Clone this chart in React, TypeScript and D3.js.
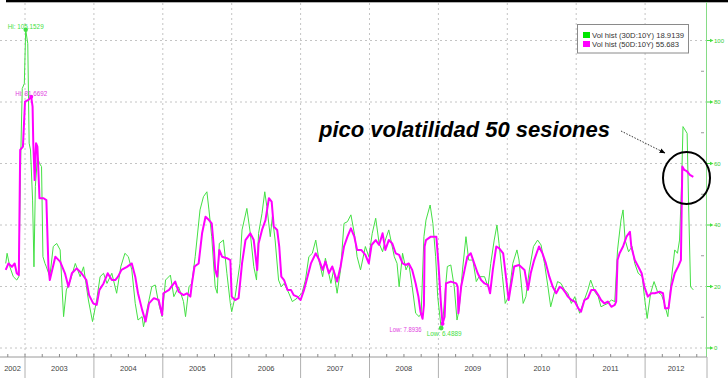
import React from "react";
import * as d3 from "d3";

// Decimal-year time stamps and volatility values
const vol30: [number, number][] = [
  [2002.72, 27.5], [2002.74, 30.8], [2002.78, 26.4], [2002.83, 23.2], [2002.88, 22.1], [2002.91, 23.2],
  [2002.94, 64.4], [2002.96, 84.4], [2002.99, 86], [2003.01, 103.5], [2003.04, 99], [2003.06, 66.6],
  [2003.08, 64.4], [2003.11, 48.1], [2003.13, 26.4], [2003.15, 52.5], [2003.18, 62.2], [2003.21, 60],
  [2003.24, 59], [2003.26, 29.7], [2003.29, 27.5], [2003.31, 26.4], [2003.36, 23.2], [2003.41, 33],
  [2003.46, 34], [2003.51, 31.9], [2003.56, 10.2], [2003.6, 18.9], [2003.66, 22.1], [2003.73, 27.5],
  [2003.8, 23.2], [2003.85, 26.4], [2003.92, 15.6], [2003.98, 8.6], [2004.04, 15.6], [2004.09, 23.2],
  [2004.14, 24.3], [2004.19, 21], [2004.26, 24.3], [2004.33, 17.8], [2004.39, 26.4], [2004.45, 30.8],
  [2004.5, 29.7], [2004.55, 25.4], [2004.6, 14.5], [2004.64, 9.1], [2004.7, 10.2], [2004.72, 6.9],
  [2004.8, 15.6], [2004.84, 19.9], [2004.89, 20.5], [2004.94, 14.5], [2004.99, 10.2], [2005.04, 22.1],
  [2005.11, 23.7], [2005.16, 16.7], [2005.23, 19.9], [2005.3, 15.1], [2005.33, 10.2], [2005.38, 19.9],
  [2005.42, 21], [2005.47, 29.7], [2005.54, 44.9], [2005.59, 49.2], [2005.64, 50.8], [2005.67, 44.9],
  [2005.71, 36.2], [2005.76, 19.9], [2005.79, 17.8], [2005.82, 34], [2005.88, 35.1], [2005.93, 24.3],
  [2005.98, 14.5], [2006.0, 11.8], [2006.05, 16.7], [2006.12, 27.5], [2006.15, 38.4], [2006.22, 45.4],
  [2006.27, 37.3], [2006.32, 26.5], [2006.36, 22.1], [2006.39, 37.3], [2006.44, 43.8], [2006.48, 50.8],
  [2006.51, 46], [2006.56, 36.2], [2006.59, 42.7], [2006.63, 35.1], [2006.68, 22.1], [2006.72, 19.9],
  [2006.76, 21], [2006.83, 17.8], [2006.88, 15.1], [2006.95, 16.2], [2007.02, 17.8], [2007.07, 22.1],
  [2007.12, 29.7], [2007.17, 30.8], [2007.22, 35.1], [2007.27, 28.1], [2007.32, 23.2], [2007.36, 29.2],
  [2007.44, 21], [2007.48, 25.4], [2007.53, 17.8], [2007.58, 25.4], [2007.63, 40.5], [2007.68, 41.1],
  [2007.73, 43.3], [2007.78, 37.3], [2007.82, 29.7], [2007.87, 25.4], [2007.94, 33], [2007.99, 29.7],
  [2008.04, 37.3], [2008.09, 42.2], [2008.14, 34], [2008.19, 31.3], [2008.23, 35.1], [2008.28, 38.4],
  [2008.36, 29.7], [2008.4, 27.5], [2008.43, 19.9], [2008.48, 30.8], [2008.53, 25.4], [2008.57, 27.5],
  [2008.62, 19.9], [2008.67, 11.3], [2008.72, 10.2], [2008.75, 11.3], [2008.79, 36.2], [2008.82, 41.6],
  [2008.88, 46.5], [2008.92, 40.5], [2008.96, 29.7], [2008.99, 16.7], [2009.04, 6.49], [2009.06, 7.5],
  [2009.1, 18.9], [2009.13, 26.5], [2009.18, 27], [2009.23, 19.9], [2009.27, 9.1], [2009.3, 12.4],
  [2009.35, 25.4], [2009.4, 36.2], [2009.44, 28.6], [2009.5, 28.6], [2009.55, 21.6], [2009.59, 23.2],
  [2009.67, 23.2], [2009.72, 19.9], [2009.76, 27.5], [2009.81, 35.1], [2009.85, 40], [2009.88, 34],
  [2009.93, 23.2], [2009.97, 14.5], [2010.02, 16.7], [2010.08, 27.5], [2010.14, 31.9], [2010.17, 28.6],
  [2010.23, 14.5], [2010.27, 16.7], [2010.32, 25.4], [2010.38, 33], [2010.44, 35.1], [2010.49, 33.5],
  [2010.54, 27.5], [2010.59, 19.9], [2010.63, 13.4], [2010.68, 17.8], [2010.73, 21.6], [2010.78, 21],
  [2010.83, 18.9], [2010.88, 17.8], [2010.93, 14.5], [2010.98, 16.7], [2011.05, 11.3], [2011.1, 14.5],
  [2011.17, 18.9], [2011.21, 22.1], [2011.27, 18.3], [2011.32, 16.7], [2011.36, 13.4], [2011.41, 14],
  [2011.46, 14.5], [2011.51, 15.6], [2011.56, 15.1], [2011.6, 31.9], [2011.65, 41.6], [2011.68, 44.9],
  [2011.71, 35.1], [2011.76, 31.3], [2011.81, 33], [2011.85, 27.5], [2011.9, 24.3], [2011.96, 23.2],
  [2011.99, 16.7], [2012.03, 9.6], [2012.08, 17.8], [2012.13, 21.6], [2012.18, 18.3], [2012.24, 17.2],
  [2012.28, 14.5], [2012.33, 10.2], [2012.38, 22.1], [2012.43, 31.9], [2012.47, 30.8], [2012.5, 35.1],
  [2012.53, 53.6], [2012.55, 72], [2012.58, 70.9], [2012.61, 69.8], [2012.63, 48.1], [2012.66, 19.9],
  [2012.7, 18.91],
];

const vol50: [number, number][] = [
  [2002.72, 25.4], [2002.76, 27.5], [2002.81, 26.4], [2002.85, 27.5], [2002.88, 24.3], [2002.91, 23.7],
  [2002.93, 64.4], [2002.97, 65.5], [2003.0, 80.1], [2003.05, 80.7], [2003.09, 81.67], [2003.11, 78.5],
  [2003.12, 66.6], [2003.14, 54.6], [2003.16, 66.6], [2003.18, 65.5], [2003.19, 60], [2003.21, 48.7],
  [2003.27, 48.7], [2003.31, 48.1], [2003.34, 26.4], [2003.36, 22.1], [2003.44, 29.7], [2003.51, 28.1],
  [2003.58, 24.3], [2003.63, 19.9], [2003.68, 24.3], [2003.75, 25.9], [2003.82, 24.3], [2003.89, 22.1],
  [2003.93, 17.2], [2003.99, 14.5], [2004.04, 14], [2004.08, 18.9], [2004.14, 21], [2004.2, 24.3],
  [2004.26, 22.1], [2004.31, 22.1], [2004.35, 23.2], [2004.4, 25.4], [2004.48, 26.4], [2004.55, 27.5],
  [2004.6, 23.2], [2004.64, 17.8], [2004.7, 12.4], [2004.75, 8.6], [2004.8, 14.5], [2004.87, 16.2],
  [2004.94, 15.6], [2004.99, 10.7], [2005.01, 17.8], [2005.09, 18.9], [2005.18, 21.6], [2005.23, 18.3],
  [2005.3, 17.2], [2005.35, 17.8], [2005.4, 16.7], [2005.42, 20.5], [2005.46, 26.5], [2005.52, 27.5],
  [2005.57, 37.3], [2005.62, 42.7], [2005.67, 41.6], [2005.71, 40.5], [2005.74, 33], [2005.76, 25.4],
  [2005.79, 23.2], [2005.82, 31.9], [2005.86, 29.7], [2005.93, 29.2], [2005.98, 28.6], [2006.0, 16.7],
  [2006.05, 15.6], [2006.1, 16.2], [2006.15, 27.5], [2006.2, 35.1], [2006.27, 37.3], [2006.32, 35.1],
  [2006.37, 25.4], [2006.39, 34], [2006.44, 38.4], [2006.49, 41.6], [2006.54, 48.7], [2006.58, 47.6],
  [2006.61, 39.5], [2006.66, 38.4], [2006.69, 33], [2006.72, 23.2], [2006.76, 22.1], [2006.81, 18.9],
  [2006.86, 18.9], [2006.9, 17.2], [2006.95, 16.7], [2007.0, 15.6], [2007.05, 18.9], [2007.1, 23.2],
  [2007.15, 27.5], [2007.22, 30.8], [2007.27, 28.6], [2007.32, 25.4], [2007.36, 28.1], [2007.41, 24.3],
  [2007.46, 26.5], [2007.53, 21.6], [2007.58, 26.5], [2007.63, 33], [2007.68, 36.2], [2007.73, 38.9],
  [2007.78, 36.2], [2007.82, 31.9], [2007.88, 31.9], [2007.94, 30.3], [2007.99, 27.5], [2008.03, 33.5],
  [2008.09, 35.1], [2008.14, 33.5], [2008.19, 37.3], [2008.23, 31.9], [2008.28, 35.1], [2008.33, 34],
  [2008.38, 30.8], [2008.43, 30.3], [2008.48, 27.5], [2008.53, 27], [2008.57, 27.5], [2008.62, 25.4],
  [2008.67, 21], [2008.71, 16.7], [2008.74, 11.8], [2008.77, 9.5], [2008.79, 14], [2008.8, 33],
  [2008.82, 35.1], [2008.89, 36.2], [2008.97, 36.2], [2009.0, 27.5], [2009.04, 13.4], [2009.06, 7.89],
  [2009.09, 10.2], [2009.11, 21], [2009.18, 21.6], [2009.26, 21], [2009.28, 19.9], [2009.29, 11.3],
  [2009.33, 19.9], [2009.38, 25.4], [2009.42, 29.7], [2009.47, 30.8], [2009.52, 27.5], [2009.57, 24.3],
  [2009.62, 22.1], [2009.67, 21], [2009.72, 20.5], [2009.75, 17.8], [2009.79, 25.4], [2009.84, 33],
  [2009.88, 32.5], [2009.94, 30.8], [2009.98, 23.2], [2010.02, 15.6], [2010.05, 19.9], [2010.1, 26.5],
  [2010.17, 27], [2010.25, 25.4], [2010.3, 18.9], [2010.34, 24.3], [2010.39, 28.6], [2010.46, 33],
  [2010.51, 30.8], [2010.56, 27.5], [2010.61, 23.2], [2010.66, 19.9], [2010.71, 17.8], [2010.76, 19.9],
  [2010.8, 19.4], [2010.85, 17.8], [2010.88, 16.7], [2010.93, 15.6], [2010.98, 15.1], [2011.03, 12.9],
  [2011.07, 11.8], [2011.12, 15.6], [2011.17, 16.2], [2011.22, 18.9], [2011.27, 18.9], [2011.32, 17.2],
  [2011.36, 15.6], [2011.41, 14.5], [2011.46, 15.1], [2011.51, 13.4], [2011.56, 14], [2011.58, 15.1],
  [2011.6, 28.6], [2011.63, 30.8], [2011.68, 33], [2011.73, 36.2], [2011.78, 37.8], [2011.8, 33],
  [2011.85, 28.6], [2011.9, 26.5], [2011.95, 24.3], [2011.99, 19.9], [2012.04, 16.7], [2012.09, 17.8],
  [2012.14, 17.8], [2012.21, 18.3], [2012.26, 17.8], [2012.29, 12.9], [2012.34, 12.9], [2012.38, 19.9],
  [2012.43, 24.3], [2012.48, 26.5], [2012.52, 28.6], [2012.54, 59], [2012.57, 57.9], [2012.61, 57.4],
  [2012.65, 56.3], [2012.7, 55.68],
];

const years = [2002, 2003, 2004, 2005, 2006, 2007, 2008, 2009, 2010, 2011, 2012];
const yTicks = [0, 20, 40, 60, 80, 100];
const yMinorTicks = [10, 30, 50, 70, 90];
const legendLabels = ["Vol hist (30D:10Y) 18.9139", "Vol hist (50D:10Y) 55.683"];
const hiLabels = ["Hi: 105.1529", "Hi: 81.6692"];
const lowLabels = ["Low: 6.4889", "Low: 7.8936"];
const annotation = "pico volatilidad 50 sesiones";

const GREEN = "#44e044";
const MAGENTA = "#ff00ff";

export default function App() {
  const W = 728, H = 378;
  const plotRight = 706;
  const x = d3.scaleLinear().domain([2002.637, 2012.884]).range([0, plotRight]);
  const y = d3.scaleLinear().domain([0, 100]).range([348, 40.5]);
  const line = d3.line<[number, number]>().x((d) => x(d[0])).y((d) => y(d[1]));

  const hi30 = vol30.reduce((a, b) => (b[1] > a[1] ? b : a));
  const hi50 = vol50.reduce((a, b) => (b[1] > a[1] ? b : a));
  const lo30 = vol30.reduce((a, b) => (b[1] < a[1] ? b : a));
  const lo50 = vol50.reduce((a, b) => (b[1] < a[1] ? b : a));

  const quarters = d3.range(2002.75, 2012.9, 0.25);
  const boundaries = years.slice(1);
  const axisY = 357;
  const small = "'Liberation Sans', Arial, sans-serif";

  return (
    <svg width={W} height={H} style={{ position: "absolute", left: 0, top: 0, background: "#fff" }}>
      <rect x={0} y={0} width={W} height={H} fill="#fff" />
      {/* top bar */}
      <rect x={6} y={0} width={W - 6} height={2.3} fill="#000" />
      {/* grid */}
      {yTicks.map((t) => (
        <line key={"gy" + t} x1={0} x2={plotRight} y1={y(t)} y2={y(t)} stroke="#c4c4c4" strokeDasharray="2,3" strokeWidth={1} />
      ))}
      {boundaries.map((b) => (
        <line key={"gx" + b} x1={x(b)} x2={x(b)} y1={3} y2={axisY} stroke="#c4c4c4" strokeDasharray="2,3" strokeWidth={1} />
      ))}

      {/* series */}
      <path d={line(vol30) || ""} fill="none" stroke={GREEN} strokeWidth={1} />
      <path d={line(vol50) || ""} fill="none" stroke={MAGENTA} strokeWidth={2} strokeLinejoin="round" />

      {/* hi / low markers */}
      <circle cx={x(hi30[0])} cy={y(hi30[1])} r={2.2} fill={GREEN} />
      <text x={x(hi30[0])} y={y(hi30[1]) - 1} fontSize={7} fill={GREEN} textAnchor="middle" fontFamily={small} textLength={36} lengthAdjust="spacingAndGlyphs">{hiLabels[0]}</text>
      <circle cx={x(hi50[0])} cy={y(hi50[1])} r={2} fill={MAGENTA} />
      <text x={x(hi50[0])} y={y(hi50[1]) - 1} fontSize={7} fill="#e040e0" textAnchor="middle" fontFamily={small} textLength={32} lengthAdjust="spacingAndGlyphs">{hiLabels[1]}</text>
      <circle cx={x(lo50[0])} cy={y(lo50[1])} r={2} fill={MAGENTA} />
      <text x={x(lo50[0]) - 21} y={y(lo50[1]) + 8} fontSize={7} fill="#e040e0" textAnchor="end" fontFamily={small} textLength={32} lengthAdjust="spacingAndGlyphs">{lowLabels[1]}</text>
      <circle cx={x(lo30[0])} cy={y(lo30[1])} r={2.4} fill={GREEN} />
      <text x={x(lo30[0]) + 3} y={y(lo30[1]) + 8} fontSize={7} fill={GREEN} textAnchor="middle" fontFamily={small} textLength={35} lengthAdjust="spacingAndGlyphs">{lowLabels[0]}</text>

      {/* right axis */}
      <line x1={plotRight + 0.5} x2={plotRight + 0.5} y1={2} y2={axisY} stroke="#86dc86" strokeWidth={1} />
      {yTicks.map((t) => (
        <g key={"yt" + t}>
          <line x1={plotRight + 1} x2={plotRight + 5} y1={y(t)} y2={y(t)} stroke={GREEN} strokeWidth={1} />
          <path d={`M${plotRight + 4},${y(t) - 1.8}L${plotRight + 7.5},${y(t)}L${plotRight + 4},${y(t) + 1.8}Z`} fill={GREEN} />
          <text x={plotRight + 8} y={y(t)} dy="0.35em" fontSize={6} fill="#33cc33" fontFamily={small}>{t}</text>
        </g>
      ))}
      {yMinorTicks.map((t) => (
        <line key={"ym" + t} x1={plotRight - 5} x2={plotRight - 2} y1={y(t)} y2={y(t)} stroke="#9a9a9a" strokeWidth={1} />
      ))}

      {/* bottom axis */}
      <line x1={0} x2={plotRight + 1} y1={axisY} y2={axisY} stroke="#9a9a9a" strokeWidth={1} />
      {quarters.map((q) => (
        <line key={"q" + q} x1={x(q)} x2={x(q)} y1={axisY - 3} y2={axisY} stroke="#8a8a8a" strokeWidth={1} />
      ))}
      {boundaries.map((b) => (
        <line key={"yb" + b} x1={x(b)} x2={x(b)} y1={axisY} y2={H} stroke="#b0b0b0" strokeWidth={1} />
      ))}
      <line x1={plotRight + 1} x2={plotRight + 1} y1={axisY} y2={H} stroke="#b0b0b0" strokeWidth={1} />
      {years.map((yr) => {
        const a = Math.max(0, x(yr));
        const b = Math.min(plotRight + 1, x(yr + 1));
        return (
          <text key={"yl" + yr} x={(a + b) / 2} y={371} fontSize={7.5} fill="#444" textAnchor="middle" fontFamily={small}>{yr}</text>
        );
      })}

      {/* legend */}
      <rect x={577.5} y={24.5} width={111} height={28.5} fill="#fff" stroke="#8a8a8a" strokeWidth={1} />
      <rect x={583} y={32} width={7} height={6} fill="#00e600" />
      <text x={592} y={37.8} fontSize={7.5} fill="#333" fontFamily={small} textLength={92} lengthAdjust="spacingAndGlyphs">{legendLabels[0]}</text>
      <rect x={583} y={41} width={7} height={6} fill={MAGENTA} />
      <text x={592} y={46.8} fontSize={7.5} fill="#333" fontFamily={small} textLength={87} lengthAdjust="spacingAndGlyphs">{legendLabels[1]}</text>

      {/* annotation */}
      <text x={319} y={137} fontSize={22} fontWeight="bold" fontStyle="italic" fill="#000" fontFamily={small} textLength={291} lengthAdjust="spacingAndGlyphs">{annotation}</text>
      <defs>
        <marker id="ah" viewBox="0 0 10 10" refX={9} refY={5} markerWidth={6} markerHeight={6} orient="auto">
          <path d="M0,1L10,5L0,9Z" fill="#000" />
        </marker>
      </defs>
      <line x1={621} y1={131} x2={665} y2={153} stroke="#333" strokeWidth={1} strokeDasharray="1.5,1.5" markerEnd="url(#ah)" />
      <ellipse cx={686.5} cy={178} rx={23.5} ry={26} fill="none" stroke="#000" strokeWidth={2} />
    </svg>
  );
}
